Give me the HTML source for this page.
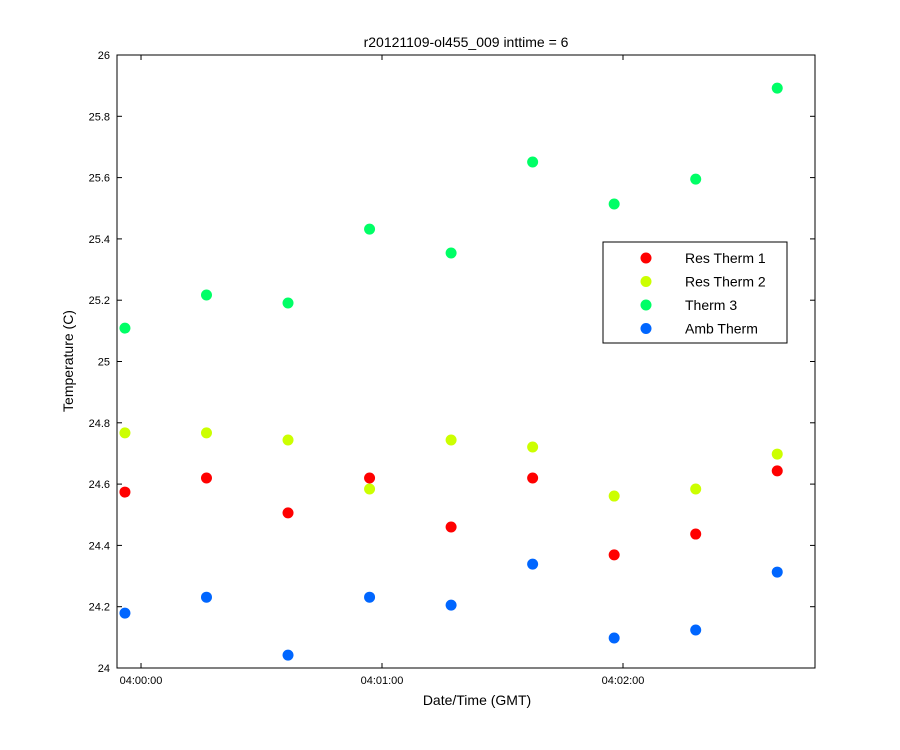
<!DOCTYPE html>
<html><head><meta charset="utf-8"><style>
html,body{margin:0;padding:0;background:#fff;}
svg{display:block;font-family:"Liberation Sans",Arial,sans-serif;}
</style></head><body>
<svg id="chart" width="900" height="750" viewBox="0 0 900 750">
<rect x="0" y="0" width="900" height="750" fill="#fff"/>
<text x="466" y="47" font-size="14" text-anchor="middle">r20121109-ol455_009 inttime = 6</text>
<rect x="117" y="55" width="698" height="613" fill="#fff" stroke="#000" stroke-width="1"/>
<g id="yticks"></g>
<g id="xticks"></g>
<text x="477" y="705" font-size="14" text-anchor="middle">Date/Time (GMT)</text>
<text transform="translate(73,361) rotate(-90)" font-size="14" text-anchor="middle">Temperature (C)</text>
<g id="points"></g>
<g id="legend">
<rect x="603" y="242" width="184" height="101" fill="#fff" stroke="#000" stroke-width="1"/>
</g>
</svg>
<script>
const times = [-4, 16.3, 36.6, 56.9, 77.2, 97.5, 117.8, 138.1, 158.4];
const resTherm1 = [24.574, 24.620, 24.506, 24.620, 24.460, 24.620, 24.369, 24.437, 24.643];
const resTherm2 = [24.767, 24.767, 24.744, 24.584, 24.744, 24.721, 24.561, 24.584, 24.698];
const therm3 = [25.109, 25.217, 25.191, 25.432, 25.354, 25.651, 25.514, 25.595, 25.892];
const ambTherm = [24.179, 24.231, 24.042, 24.231, 24.205, 24.339, 24.098, 24.124, 24.313];
const seriesNames = ["Res Therm 1", "Res Therm 2", "Therm 3", "Amb Therm"];
const yTicks = [24, 24.2, 24.4, 24.6, 24.8, 25, 25.2, 25.4, 25.6, 25.8, 26];
const xTickSeconds = [0, 60, 120];
const xTickLabels = ["04:00:00", "04:01:00", "04:02:00"];

const NS = "http://www.w3.org/2000/svg";
const L=117,R=815,T=55,B=668;
const xMin=-5.98, xMax=167.8, yMin=24, yMax=26;
const xs = v => L + (v - xMin) / (xMax - xMin) * (R - L);
const ys = v => B - (v - yMin) / (yMax - yMin) * (B - T);
function mk(tag, attrs, parent){const e=document.createElementNS(NS,tag);for(const k in attrs)e.setAttribute(k,attrs[k]);parent.appendChild(e);return e;}

const yg=document.getElementById('yticks');
yTicks.forEach(v=>{
  const y=ys(v);
  const l1=mk('line',{x1:L,x2:L+5,y1:y,y2:y,stroke:'#000'},yg);
  
  
  const l2=mk('line',{x1:R,x2:R-5,y1:y,y2:y,stroke:'#000'},yg);
  
  
  const t=mk('text',{x:L-7,y:y+4,'font-size':11,'text-anchor':'end'},yg);
  t.textContent=String(v);
  
  
});
const xg=document.getElementById('xticks');
xTickSeconds.forEach((s,i)=>{
  const x=xs(s);
  const l1=mk('line',{x1:x,x2:x,y1:B,y2:B-5,stroke:'#000'},xg);
  
  
  const l2=mk('line',{x1:x,x2:x,y1:T,y2:T+5,stroke:'#000'},xg);
  
  
  const t=mk('text',{x:x,y:B+16,'font-size':11,'text-anchor':'middle'},xg);
  t.textContent=xTickLabels[i];
  
  
});
const colors=['#ff0000','#ccff00','#00ff66','#0066ff'];
const data=[resTherm1,resTherm2,therm3,ambTherm];
const pg=document.getElementById('points');
data.forEach((arr,si)=>{
  arr.forEach((v,i)=>{
    const c=mk('circle',{cx:xs(times[i]),cy:ys(v),r:5.5,fill:colors[si]},pg);
    
    
  });
});
const lg=document.getElementById('legend');
seriesNames.forEach((n,i)=>{
  const y=258+i*23.5;
  const c=mk('circle',{cx:646,cy:y,r:5.5,fill:colors[i]},lg);
  
  
  const t=mk('text',{x:685,y:y+5,'font-size':14},lg);
  t.textContent=n;
  
  
});
</script>
</body></html>
